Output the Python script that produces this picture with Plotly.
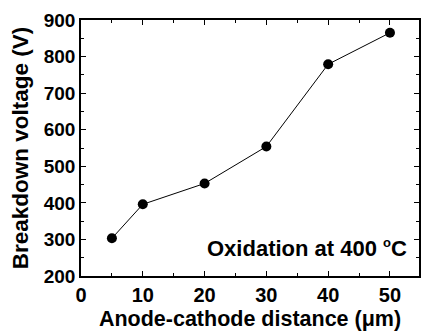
import plotly.graph_objects as go

distance_um = [5, 10, 20, 30, 40, 50]
breakdown_v = [303, 396, 453, 554, 779, 865]

x_ticks = [0, 10, 20, 30, 40, 50]
y_ticks = [200, 300, 400, 500, 600, 700, 800, 900]

FONT = "Liberation Sans, Arial, sans-serif"

fig = go.Figure()
fig.add_trace(go.Scatter(
    x=distance_um, y=breakdown_v, mode="lines+markers",
    line=dict(color="black", width=1),
    marker=dict(color="black", size=10),
    showlegend=False,
))

axis_common = dict(
    showline=True, linecolor="black", linewidth=1.5, mirror="ticks",
    ticks="inside", ticklen=5, tickwidth=1.3, tickcolor="black",
    showgrid=False, zeroline=False,
)

fig.update_xaxes(
    range=[0, 54.7], tickvals=x_ticks, ticktext=[f"<b>{v}</b>" for v in x_ticks],
    minor=dict(ticks="inside", ticklen=3, tickwidth=1, tickcolor="black", dtick=5, tick0=0),
    tickfont=dict(family=FONT, size=20, color="black"),
    title=dict(text="<b>Anode-cathode distance (μm)</b>", standoff=6,
               font=dict(family=FONT, size=21.5, color="black")),
    **axis_common,
)
fig.update_yaxes(
    range=[200, 900], tickvals=y_ticks, ticktext=[f"<b>{v}</b>" for v in y_ticks],
    minor=dict(ticks="inside", ticklen=3, tickwidth=1, tickcolor="black", dtick=50, tick0=200),
    tickfont=dict(family=FONT, size=19, color="black"),
    title=dict(text="<b>Breakdown voltage (V)</b>", standoff=9,
               font=dict(family=FONT, size=22.5, color="black")),
    **axis_common,
)

fig.add_annotation(
    x=53.0, y=277, xref="x", yref="y", xanchor="right", yanchor="middle",
    text="<b>Oxidation at 400 <sup><span style='font-size:13px'>o</span></sup>C</b>",
    showarrow=False,
    font=dict(family=FONT, size=22, color="black"),
)

fig.update_layout(
    width=421, height=333,
    margin=dict(l=81, r=0, t=20, b=57),
    plot_bgcolor="white", paper_bgcolor="white",
)

fig.write_html("out.html")
